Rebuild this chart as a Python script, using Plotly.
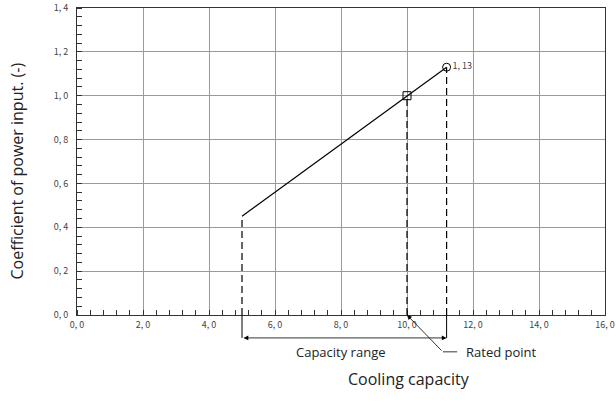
import plotly.graph_objects as go

# Data
capacity = [5.0, 10.0, 11.2]
coefficient = [0.45, 1.0, 1.13]
rated_capacity = [10.0]
rated_coef = [1.0]
max_capacity = [11.2]
max_coef = [1.13]
max_label = ["1, 13"]

x_ticks = [0, 2, 4, 6, 8, 10, 12, 14, 16]
x_ticktext = ["0, 0", "2, 0", "4, 0", "6, 0", "8, 0", "10, 0", "12, 0", "14, 0", "16, 0"]
y_ticks = [0, 0.2, 0.4, 0.6, 0.8, 1.0, 1.2, 1.4]
y_ticktext = ["0, 0", "0, 2", "0, 4", "0, 6", "0, 8", "1, 0", "1, 2", "1, 4"]

tick_font = dict(family="Noto Sans CJK JP", size=9, color="#444444")
text_font = dict(family="Open Sans", size=13, color="#222222")

fig = go.Figure()

# main line
fig.add_trace(go.Scatter(x=capacity, y=coefficient, mode="lines",
                         line=dict(color="black", width=1.2), showlegend=False, hoverinfo="skip"))
# rated point square
fig.add_trace(go.Scatter(x=rated_capacity, y=rated_coef, mode="markers",
                         marker=dict(symbol="square-open", size=8, color="black", line=dict(width=1)),
                         showlegend=False))
# max point circle
fig.add_trace(go.Scatter(x=max_capacity, y=max_coef, mode="markers+text",
                         marker=dict(symbol="circle-open", size=8, color="black", line=dict(width=1)),
                         text=max_label, textposition="middle right",
                         textfont=dict(family="Noto Sans CJK JP", size=9, color="#444444"),
                         showlegend=False))

# dashed verticals from the curve to the x axis
for xv, yv in [(capacity[0], coefficient[0]), (rated_capacity[0], rated_coef[0]), (max_capacity[0], max_coef[0])]:
    fig.add_shape(type="line", xref="x", yref="y", x0=xv, x1=xv, y0=0, y1=yv,
                  line=dict(color="black", width=1.2, dash="7px,4px"))

# solid extensions below the axis for the capacity range
range_y = -0.0747
for xv in [capacity[0], max_capacity[0]]:
    fig.add_shape(type="line", xref="x", yref="paper", x0=xv, x1=xv, y0=0, y1=range_y,
                  line=dict(color="black", width=1))

# capacity range double arrow
fig.add_annotation(x=max_capacity[0], y=range_y, xref="x", yref="paper",
                   ax=capacity[0], axref="x", ay=0, ayref="pixel",
                   showarrow=True, arrowside="end+start", arrowhead=2, arrowsize=1.2,
                   arrowwidth=0.8, arrowcolor="black", text="")
fig.add_annotation(x=8.0, y=-0.12, xref="x", yref="paper", text="Capacity range",
                   showarrow=False, font=text_font, xanchor="center", yanchor="middle")

# rated point leader
leader_y = -0.12
bend_x = 11.09
fig.add_annotation(x=rated_capacity[0], y=0, xref="x", yref="paper",
                   ax=bend_x, axref="x", ay=37, ayref="pixel",
                   showarrow=True, arrowhead=2, arrowsize=1.2, arrowwidth=0.8,
                   arrowcolor="black", text="")
fig.add_shape(type="line", xref="x", yref="paper", x0=bend_x, x1=11.52, y0=leader_y, y1=leader_y,
              line=dict(color="black", width=0.8))
fig.add_annotation(x=11.72, y=leader_y, xref="x", yref="paper", text="Rated point",
                   showarrow=False, font=text_font, xanchor="left", yanchor="middle")

# axis titles
fig.add_annotation(x=10.05, y=-0.208, xref="x", yref="paper", text="Cooling capacity",
                   showarrow=False, font=dict(family="Open Sans", size=16, color="#222222"),
                   xanchor="center", yanchor="middle")
fig.add_annotation(x=-0.1136, y=0.4675, xref="paper", yref="paper",
                   text="Coefficient of power input. (-)", textangle=-90,
                   showarrow=False, font=dict(family="Open Sans", size=16, color="#222222"),
                   xanchor="center", yanchor="middle")

fig.update_xaxes(range=[0, 16], tickvals=x_ticks, ticktext=x_ticktext, tickfont=tick_font,
                 ticklabelstandoff=1, automargin=False,
                 showgrid=True, gridcolor="#9a9a9a", gridwidth=1,
                 showline=True, linecolor="#333333", linewidth=1, mirror=True,
                 ticks="", zeroline=False,
                 minor=dict(dtick=0.4, tick0=0, ticks="inside", ticklen=5, tickcolor="#333333",
                            showgrid=False))
fig.update_yaxes(range=[0, 1.4], tickvals=y_ticks, ticktext=y_ticktext, tickfont=tick_font,
                 ticklabelstandoff=6, automargin=False,
                 showgrid=True, gridcolor="#9a9a9a", gridwidth=1,
                 showline=True, linecolor="#333333", linewidth=1, mirror=True,
                 ticks="", zeroline=False,
                 minor=dict(dtick=0.04, tick0=0, ticks="inside", ticklen=5, tickcolor="#333333",
                            showgrid=False))

fig.update_layout(width=616, height=404, margin=dict(l=77, r=11, t=8, b=89),
                  plot_bgcolor="white", paper_bgcolor="white", showlegend=False)

fig.write_html("out.html", config={"displayModeBar": False},
               post_script="document.body.style.margin='0px';document.body.style.overflow='hidden';")
